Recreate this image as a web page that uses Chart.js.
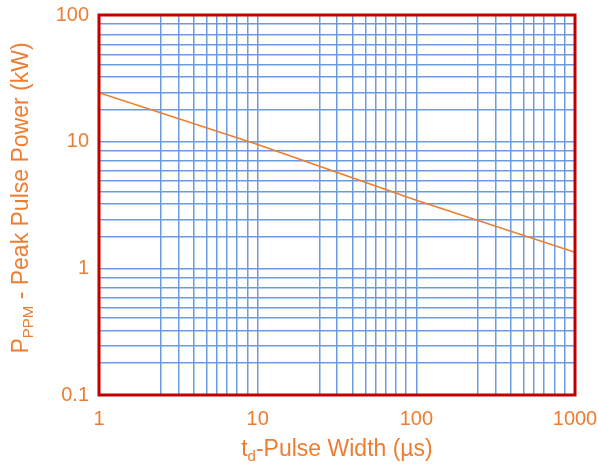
<!DOCTYPE html>
<html>
<head>
<meta charset="utf-8">
<script src="https://cdn.jsdelivr.net/npm/chart.js@4/dist/chart.umd.min.js"></script>
<style>
  html, body { margin: 0; padding: 0; background: #fff; }
  #wrap { width: 599px; height: 466px; position: relative; }
</style>
</head>
<body>
<div id="wrap"><canvas id="pulseChart"></canvas></div>
<script>
// curve
const pulseWidth = [1, 10, 100, 1000];
const peakPower = [24.3, 9.5, 3.45, 1.34];

// grid positions as they sit in the reference (per decade multipliers)
const xMinorSteps = [2.45, 3.17, 3.96, 4.77, 5.52, 6.38, 7.42, 8.61];
const yMinorSteps = [1.79, 2.44, 3.24, 4.05, 4.89, 5.87, 7.03, 8.47];
const xDecades = [1, 10, 100, 1000];
const yDecades = [0.1, 1, 10, 100];

const COLORS = {
  text: "#ED7D31",
  line: "#ED7D31",
  grid: "#6A9BE0",
  frame: "#C00000",
};
const FONT = "'Liberation Sans', Arial, sans-serif";

function buildTicks(decades, steps) {
  const out = [];
  decades.forEach((d, i) => {
    out.push({ value: d, major: true });
    if (i < decades.length - 1) steps.forEach(s => out.push({ value: +(d * s).toPrecision(4), major: false }));
  });
  return out;
}

const frameAndTitles = {
  id: "frameAndTitles",
  afterDraw(chart) {
    const { ctx, chartArea: a } = chart;
    ctx.save();
    ctx.strokeStyle = COLORS.frame;
    ctx.lineWidth = 3;
    ctx.strokeRect(a.left, a.top, a.right - a.left, a.bottom - a.top);

    ctx.fillStyle = COLORS.text;
    ctx.textBaseline = "alphabetic";
    ctx.textAlign = "left";

    // x title: t_d-Pulse Width (µs)
    const big = "23px " + FONT, small = "15px " + FONT;
    let parts = [["t", big, 0], ["d", small, 5], ["-Pulse Width (µs)", big, 0]];
    let total = 0;
    parts.forEach(p => { ctx.font = p[1]; total += ctx.measureText(p[0]).width; });
    let x = (a.left + a.right) / 2 - total / 2;
    parts.forEach(p => { ctx.font = p[1]; ctx.fillText(p[0], x, 456 + p[2]); x += ctx.measureText(p[0]).width; });

    // y title: P_PPM - Peak Pulse Power (kW)
    parts = [["P", big, 0], ["PPM", small, 5], [" - Peak Pulse Power (kW)", big, 0]];
    total = 0;
    parts.forEach(p => { ctx.font = p[1]; total += ctx.measureText(p[0]).width; });
    ctx.translate(28, 198);
    ctx.rotate(-Math.PI / 2);
    x = -total / 2;
    parts.forEach(p => { ctx.font = p[1]; ctx.fillText(p[0], x, p[2]); x += ctx.measureText(p[0]).width; });
    ctx.restore();
  }
};

new Chart(document.getElementById("pulseChart"), {
  type: "line",
  data: {
    datasets: [{
      data: pulseWidth.map((w, i) => ({ x: w, y: peakPower[i] })),
      borderColor: COLORS.line,
      borderWidth: 1.5,
      pointRadius: 0,
      tension: 0,
      fill: false,
    }]
  },
  options: {
    responsive: true,
    maintainAspectRatio: false,
    animation: false,
    layout: { padding: { top: 15, right: 24, left: 0, bottom: 0 } },
    plugins: { legend: { display: false }, tooltip: { enabled: false } },
    scales: {
      x: {
        type: "logarithmic",
        min: 1, max: 1000,
        afterBuildTicks: s => { s.ticks = buildTicks(xDecades, xMinorSteps); },
        afterFit: s => { s.height = 71; s.paddingLeft = 0; s.paddingRight = 0; },
        grid: { color: COLORS.grid, lineWidth: 1.5, drawTicks: false },
        border: { display: false },
        ticks: {
          autoSkip: false, maxRotation: 0, padding: 12,
          color: COLORS.text, font: { family: FONT, size: 20 },
          callback: (v, i, t) => t[i].major ? String(v) : ""
        }
      },
      y: {
        type: "logarithmic",
        min: 0.1, max: 100,
        afterBuildTicks: s => { s.ticks = buildTicks(yDecades, yMinorSteps); },
        afterFit: s => { s.width = 99; s.paddingTop = 0; s.paddingBottom = 0; },
        grid: { color: COLORS.grid, lineWidth: 1.5, drawTicks: false },
        border: { display: false },
        ticks: {
          autoSkip: false, padding: 10,
          color: COLORS.text, font: { family: FONT, size: 20 },
          callback: (v, i, t) => t[i].major ? String(v) : ""
        }
      }
    }
  },
  plugins: [frameAndTitles]
});
</script>
</body>
</html>
